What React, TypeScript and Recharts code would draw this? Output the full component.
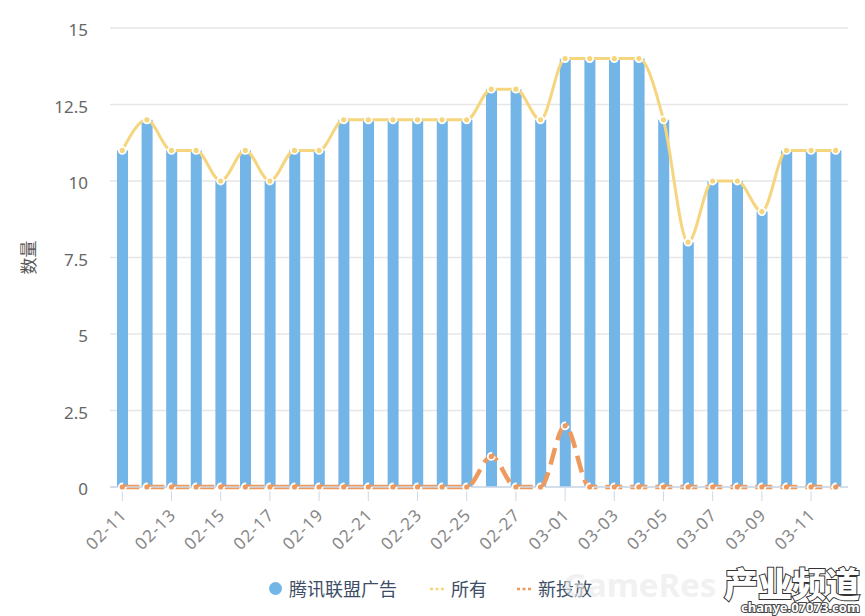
import React from "react";
import { ComposedChart, Bar, Line, XAxis, YAxis, CartesianGrid, Legend, Label } from "recharts";

const dates = ["02-11","02-12","02-13","02-14","02-15","02-16","02-17","02-18","02-19","02-20","02-21","02-22","02-23","02-24","02-25","02-26","02-27","02-28","03-01","03-02","03-03","03-04","03-05","03-06","03-07","03-08","03-09","03-10","03-11","03-12"];
const tencentAds = [11,12,11,11,10,11,10,11,11,12,12,12,12,12,12,13,13,12,14,14,14,14,12,8,10,10,9,11,11,11];
const allAds = [11,12,11,11,10,11,10,11,11,12,12,12,12,12,12,13,13,12,14,14,14,14,12,8,10,10,9,11,11,11];
const newAds = [0,0,0,0,0,0,0,0,0,0,0,0,0,0,0,1,0,0,2,0,0,0,0,0,0,0,0,0,0,0];
const yTicks = [0,2.5,5,7.5,10,12.5,15];
const data = dates.map((d, i) => ({ d, a: tencentAds[i], b: allAds[i], c: newAds[i] }));

const BLUE = "#74b5e8";
const YELLOW = "#f6d57f";
const ORANGE = "#ee9a5e";
const FONT = "'Noto Sans CJK SC','Noto Sans',sans-serif";

const Swatch = ({ color }: { color: string }) => (
  <svg width="14" height="10">
    <line x1="0" y1="5" x2="14" y2="5" stroke={color} strokeWidth="2.5" strokeDasharray="3 2.5" />
  </svg>
);

const LegendBox = () => (
  <div style={{ position: "relative", height: 50, fontFamily: FONT, fontSize: 18, color: "#3e4e66" }}>
    <div style={{ position: "absolute", left: 269, top: 16, width: 13, height: 13, borderRadius: "50%", background: BLUE }} />
    <span style={{ position: "absolute", left: 289, top: 10, lineHeight: "24px", whiteSpace: "nowrap" }}>腾讯联盟广告</span>
    <span style={{ position: "absolute", left: 430, top: 18, lineHeight: 0 }}><Swatch color={YELLOW} /></span>
    <span style={{ position: "absolute", left: 451, top: 10, lineHeight: "24px", whiteSpace: "nowrap" }}>所有</span>
    <span style={{ position: "absolute", left: 517, top: 18, lineHeight: 0 }}><Swatch color={ORANGE} /></span>
    <span style={{ position: "absolute", left: 538, top: 10, lineHeight: "24px", whiteSpace: "nowrap" }}>新投放</span>
  </div>
);

const XTick = ({ x, payload }: any) => (
  <text
    transform={`translate(${x + 5.5},516) rotate(-45)`}
    textAnchor="end"
    fill="#888"
    fontSize={17}
    letterSpacing={1}
    fontFamily="'Noto Sans',sans-serif"
  >
    {payload.value}
  </text>
);

const dot = (color: string) => ({ r: 3.5, fill: color, stroke: "#fff", strokeWidth: 1.8 });

export default function App() {
  return (
    <div style={{ position: "absolute", left: 0, top: 0, width: 865, height: 616, overflow: "hidden", background: "#fff" }}>
      <ComposedChart width={865} height={616} data={data} margin={{ top: 28, right: 17, bottom: 0, left: 0 }} style={{ fontFamily: FONT }}>
        <CartesianGrid horizontal vertical={false} stroke="#e6e6e6" strokeWidth={1.5} />
        <XAxis
          dataKey="d"
          height={79}
          interval={1}
          tick={<XTick />}
          tickSize={14}
          tickLine={{ stroke: "#cdd8ea" }}
          axisLine={{ stroke: "#cdd8ea", strokeWidth: 1.5 }}
        />
        <YAxis
          width={110}
          domain={[0, 15]}
          ticks={yTicks}
          tickFormatter={(v: number) => String(v)}
          axisLine={false}
          tickLine={false}
          tickMargin={16}
          dy={2}
          tick={{ fill: "#666", fontSize: 17, fontFamily: "'Noto Sans',sans-serif" }}
        >
          <Label value="数量" angle={-90} position="insideLeft" offset={29} style={{ fill: "#555", fontSize: 17, textAnchor: "middle" }} />
        </YAxis>
        <Legend verticalAlign="bottom" height={50} content={<LegendBox />} wrapperStyle={{ left: 0, bottom: 0, width: 865 }} />
        <Bar dataKey="a" name="腾讯联盟广告" fill={BLUE} barSize={11} isAnimationActive={false} />
        <Line dataKey="b" name="所有" type="monotone" stroke={YELLOW} strokeWidth={3} dot={dot(YELLOW)} isAnimationActive={false} />
        <Line dataKey="c" name="新投放" type="monotone" stroke={ORANGE} strokeWidth={4.5} strokeDasharray="17 8" dot={dot(ORANGE)} isAnimationActive={false} />
      </ComposedChart>
      <svg width={865} height={616} style={{ position: "absolute", left: 0, top: 0, pointerEvents: "none" }}>
        <text x={563} y={597} fontFamily="'Noto Sans',sans-serif" fontSize={33} fontWeight={700} fill="#e9e9e9" fillOpacity={0.65}>GameRes</text>
        <text x={724} y={597} fontFamily="'Noto Sans CJK SC',sans-serif" fontSize={34} fontWeight={900} fill="#fff" stroke="#333" strokeWidth={2} paintOrder="stroke">产业频道</text>
        <text x={741} y={612} fontFamily="'Noto Sans',sans-serif" fontSize={13} fontWeight={700} fill="#fff" stroke="#444" strokeWidth={2} paintOrder="stroke">chanye.07073.com</text>
      </svg>
    </div>
  );
}
